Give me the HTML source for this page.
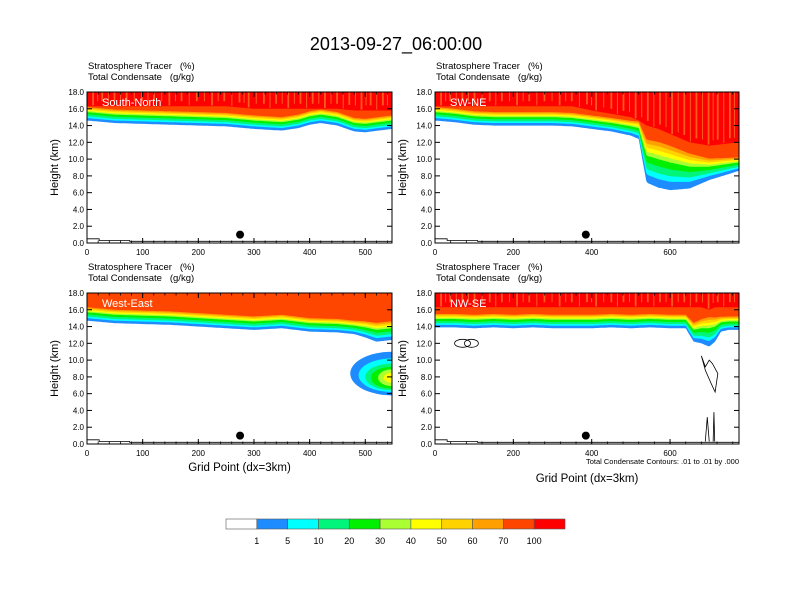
<!DOCTYPE html>
<html><head><meta charset="utf-8">
<style>
html,body{margin:0;padding:0;background:#fff;}
svg{display:block;font-family:"Liberation Sans","DejaVu Sans",sans-serif;}
text{white-space:pre;}
</style></head>
<body>
<svg id="fig" width="792" height="612" viewBox="0 0 792 612" xmlns="http://www.w3.org/2000/svg">
<rect width="792" height="612" fill="#fff"/>
<text x="396" y="50" font-size="18" text-anchor="middle" fill="#000">2013-09-27_06:00:00</text>
</svg>
<script>
// ---- data arrays ----
const levelLabels = ["1","5","10","20","30","40","50","60","70","100"];
const levelColors = ["#ffffff","#1e8cff","#00ffff","#00f57a","#00f000","#aaff33","#ffff00","#ffd200","#ffa000","#ff4600","#ff0000"];
const layerOffsets = [0,0.3,0.5,0.75,1.0,1.15,1.3,1.45,1.6];
const yTicks = [0,2,4,6,8,10,12,14,16,18];

const snX = [0,50,100,150,200,250,300,350,380,400,420,450,480,500,548];
const snBase = [14.6,14.3,14.2,14.1,14.0,13.9,13.6,13.4,13.7,14.1,14.3,14.0,13.3,13.2,13.6];
const snScale = [1,1,1,1,1,1,1,1,1,1,1,1,1,1,1];
const snRed = [16.3,16.3,16.3,16.3,16.3,16.3,16.0,16.0,16.0,16.0,16.0,16.0,15.8,15.8,15.8];
const snXTicks = [0,100,200,300,400,500];

const swX = [0,50,100,150,200,250,300,350,400,450,500,520,540,570,600,650,700,776];
const swBase = [14.6,14.4,14.1,14.0,14.0,14.0,14.0,13.9,13.6,13.3,12.8,12.4,7.2,6.6,6.3,6.5,7.5,8.6];
const swScale = [1,1,1,1,1,1,1,1,1,1,1.1,1.3,3.2,3.4,3.3,2.6,1.6,1.0];
const swRed = [16.3,16.3,16.3,16.3,16.3,16.3,16.3,16.3,15.8,15.4,15.0,14.6,14.0,13.6,13.0,12.0,11.6,12.0];
const swXTicks = [0,200,400,600];

const weX = [0,50,100,150,200,250,300,350,400,450,480,500,520,548];
const weBase = [14.7,14.4,14.3,14.2,14.0,13.8,13.6,13.8,13.4,13.3,13.1,12.7,12.2,12.4];
const weScale = [1,1,1,1,1,1,1,1,1,1,1,1.2,1.4,1.4];
const weRed = [18,18,18,18,18,18,18,18,18,18,18,18,18,18];
const weXTicks = [0,100,200,300,400,500];
const weBlobCX = [548,548,548,548,548,548];
const weBlobCH = [8.4,8.2,8.0,7.9,7.9,7.9];
const weBlobRX = [75,60,48,38,25,15];
const weBlobRH = [2.6,2.0,1.6,1.3,1.0,0.6];

const nwX = [0,50,100,150,200,250,300,350,400,450,500,550,600,640,660,680,700,715,730,750,776];
const nwBase = [13.9,13.9,13.8,13.9,13.8,13.9,13.8,13.8,13.8,13.9,13.8,13.9,13.8,13.8,12.2,12.0,11.6,12.2,13.4,13.6,13.6];
const nwScale = [1,1,1,1,1,1,1,1,1,1,1,1,1,1,1.4,1.8,2.2,1.8,1.1,1,1];
const nwRed = [16.3,16.3,16.3,16.3,16.3,16.3,16.3,16.3,16.3,16.3,16.3,16.3,16.3,16.3,16.3,16.3,16.0,16.3,16.3,16.3,16.3];
const nwXTicks = [0,200,400,600];

const stripeFrac = [0.02,0.035,0.05,0.07,0.09,0.11,0.13,0.155,0.18,0.2,0.22,0.245,0.27,0.29,0.31,0.335,0.36,0.385,0.41,0.43,0.45,0.475,0.5,0.515,0.53,0.555,0.58,0.6,0.62,0.64,0.66,0.68,0.7,0.72,0.74,0.76,0.78,0.8,0.82,0.84,0.86,0.88,0.9,0.915,0.93,0.95,0.97,0.985];

const panels = [
  {name:"south-north",label:"South-North",x0:87,x1:392,y0:92,y1:243,xmax:548,xs:snX,base:snBase,scale:snScale,red:snRed,ticks:snXTicks,xlab:false,dotX:275,tx:88,ty:69},
  {name:"sw-ne",label:"SW-NE",x0:435,x1:739,y0:92,y1:243,xmax:776,xs:swX,base:swBase,scale:swScale,red:swRed,ticks:swXTicks,xlab:false,dotX:385,tx:436,ty:69},
  {name:"west-east",label:"West-East",x0:87,x1:392,y0:293,y1:444,xmax:548,xs:weX,base:weBase,scale:weScale,red:weRed,ticks:weXTicks,xlab:true,dotX:275,tx:88,ty:270},
  {name:"nw-se",label:"NW-SE",x0:435,x1:739,y0:293,y1:444,xmax:776,xs:nwX,base:nwBase,scale:nwScale,red:nwRed,ticks:nwXTicks,xlab:true,dotX:385,tx:436,ty:270}
];

const NS="http://www.w3.org/2000/svg";
const svg=document.getElementById('fig');
function mk(tag,attrs,parent){const e=document.createElementNS(NS,tag);for(const k in attrs)e.setAttribute(k,attrs[k]);(parent||svg).appendChild(e);return e;}
function interp(xs,vs,x){if(x<=xs[0])return vs[0];for(let i=1;i<xs.length;i++){if(x<=xs[i]){const t=(x-xs[i-1])/(xs[i]-xs[i-1]);return vs[i-1]+t*(vs[i]-vs[i-1]);}}return vs[vs.length-1];}

panels.forEach(p=>{
  const g=mk('g',{});
  
  
  const sx=x=>p.x0+x/p.xmax*(p.x1-p.x0);
  const sy=h=>p.y1-h/18*(p.y1-p.y0);
  const cid='clip-'+p.name;
  const cp=mk('clipPath',{id:cid},g);mk('rect',{x:p.x0,y:p.y0,width:p.x1-p.x0,height:p.y1-p.y0},cp);
  const fg=mk('g',{'clip-path':'url(#'+cid+')'},g);
  
  
  const step=p.xmax/200;
  function band(fn,color,nm){
    let d='M'+sx(0)+','+sy(18);
    for(let x=0;x<=p.xmax+0.01;x+=step){d+=' L'+sx(x).toFixed(1)+','+sy(Math.min(18,fn(x))).toFixed(1);}
    d+=' L'+sx(p.xmax)+','+sy(18)+' Z';
    const e=mk('path',{d:d,fill:color},fg);
    
    
  }
  layerOffsets.forEach((o,k)=>{
    band(x=>interp(p.xs,p.base,x)+o*interp(p.xs,p.scale,x),levelColors[k+1],'level-band-'+levelLabels[k]);
  });
  band(x=>interp(p.xs,p.red,x),levelColors[10],'level-band-100');
  if(p.name==='west-east'){
    weBlobCX.forEach((cx,k)=>{
      const e=mk('ellipse',{cx:sx(cx),cy:sy(weBlobCH[k]),rx:weBlobRX[k]/p.xmax*(p.x1-p.x0),ry:weBlobRH[k]/18*(p.y1-p.y0),fill:levelColors[k+1]},fg);
      
      
    });
  }
  if(p.red[0]<18){
    stripeFrac.forEach((f,i)=>{
      const x=f*p.xmax;const rb=interp(p.xs,p.red,x);
      const e=mk('line',{x1:sx(x),x2:sx(x),y1:sy(18),y2:sy(rb+(i%3===0?0.1:0.6)),stroke:'#ff5a1e','stroke-width':(i%2?1:1.8)},fg);
      
      
    });
  }
  const t=mk('polyline',{points:`${sx(0)},${sy(0.5)} ${sx(p.xmax*0.04)},${sy(0.5)} ${sx(p.xmax*0.04)},${sy(0.3)} ${sx(p.xmax*0.14)},${sy(0.3)} ${sx(p.xmax*0.14)},${sy(0.2)} ${sx(p.xmax)},${sy(0.2)}`,fill:'none',stroke:'#000','stroke-width':0.8},fg);
  
  
  if(p.name==='nw-se'){
    const c1=mk('path',{d:`M${sx(680)},${sy(10.5)} L${sx(690)},${sy(9.2)} L${sx(700)},${sy(10)} L${sx(708)},${sy(9.6)} L${sx(722)},${sy(8.4)} L${sx(715)},${sy(6.2)} L${sx(705)},${sy(7.2)} L${sx(690)},${sy(8.8)} Z`,fill:'none',stroke:'#000','stroke-width':0.8},fg);
    
    
    const c2=mk('path',{d:`M${sx(50)},${sy(12)} a8,4 0 1,0 16,0 a8,4 0 1,0 -16,0 M${sx(75)},${sy(12)} a7,4 0 1,0 14,0 a7,4 0 1,0 -14,0`,fill:'none',stroke:'#000','stroke-width':0.8},fg);
    
    
    const c3=mk('path',{d:`M${sx(690)},${sy(0.3)} L${sx(695)},${sy(3.2)} L${sx(700)},${sy(0.3)} M${sx(710)},${sy(0.3)} L${sx(712)},${sy(3.8)} L${sx(714)},${sy(0.3)}`,fill:'none',stroke:'#000','stroke-width':0.8},fg);
    
    
  }
  const dot=mk('circle',{cx:sx(p.dotX),cy:sy(1.0),r:4,fill:'#000'},g);
  
  
  const fr=mk('rect',{x:p.x0,y:p.y0,width:p.x1-p.x0,height:p.y1-p.y0,fill:'none',stroke:'#000','stroke-width':1},g);
  
  
  yTicks.forEach(h=>{
    const y=sy(h);
    mk('line',{x1:p.x0,x2:p.x0+5,y1:y,y2:y,stroke:'#000','stroke-width':1},g);
    mk('line',{x1:p.x1,x2:p.x1-5,y1:y,y2:y,stroke:'#000','stroke-width':1},g);
    const tl=mk('text',{x:p.x0-3,y:y+3,'font-size':8,'text-anchor':'end'},g);
    tl.textContent=h.toFixed(1);
    
    
  });
  for(let x=0;x<=p.xmax;x+=(p.xmax>600?40:20)){
    const X=sx(x);
    mk('line',{x1:X,x2:X,y1:p.y1,y2:p.y1-2.5,stroke:'#000','stroke-width':0.8},g);
    mk('line',{x1:X,x2:X,y1:p.y0,y2:p.y0+2.5,stroke:'#000','stroke-width':0.8},g);
  }
  p.ticks.forEach(x=>{
    const X=sx(x);
    mk('line',{x1:X,x2:X,y1:p.y1,y2:p.y1-5,stroke:'#000','stroke-width':1},g);
    mk('line',{x1:X,x2:X,y1:p.y0,y2:p.y0+5,stroke:'#000','stroke-width':1},g);
    const tl=mk('text',{x:X,y:p.y1+12,'font-size':8,'text-anchor':'middle'},g);
    tl.textContent=x;
    
    
  });
  const yl=mk('text',{x:0,y:0,'font-size':11,'text-anchor':'middle',transform:`translate(${p.x0-29},${(p.y0+p.y1)/2}) rotate(-90)`},g);
  yl.textContent='Height (km)';
  
  
  const s1=mk('text',{x:p.tx,y:p.ty,'font-size':9.5},g);s1.textContent='Stratosphere Tracer   (%)';
  
  
  const s2=mk('text',{x:p.tx,y:p.ty+11,'font-size':9.5},g);s2.textContent='Total Condensate   (g/kg)';
  
  
  const pl=mk('text',{x:p.x0+15,y:p.y0+14,'font-size':11,fill:'#fff'},g);pl.textContent=p.label;
  
  
  if(p.xlab){
    const xl=mk('text',{x:(p.x0+p.x1)/2,y:p.y1+27,'font-size':11.5,'text-anchor':'middle'},g);
    xl.textContent='Grid Point (dx=3km)';
    if(p.name==='nw-se'){xl.setAttribute('y',p.y1+38);}
    
    
  }
  if(p.name==='nw-se'){
    const n=mk('text',{x:p.x1,y:p.y1+20,'font-size':7.5,'text-anchor':'end'},g);
    n.textContent='Total Condensate Contours: .01 to .01 by .000';
    
    
  }
});

const cb=mk('g',{});


const cbX0=226,cbX1=565,cbY=519,cbH=10,cbW=(cbX1-cbX0)/levelColors.length;
levelColors.forEach((c,i)=>{
  const r=mk('rect',{x:cbX0+i*cbW,y:cbY,width:cbW,height:cbH,fill:c,stroke:'#555','stroke-width':0.6},cb);
  
  
});
levelLabels.forEach((l,i)=>{
  const t=mk('text',{x:cbX0+(i+1)*cbW,y:cbY+25,'font-size':9,'text-anchor':'middle'},cb);
  t.textContent=l;
  
  
});
</script>
</body></html>
